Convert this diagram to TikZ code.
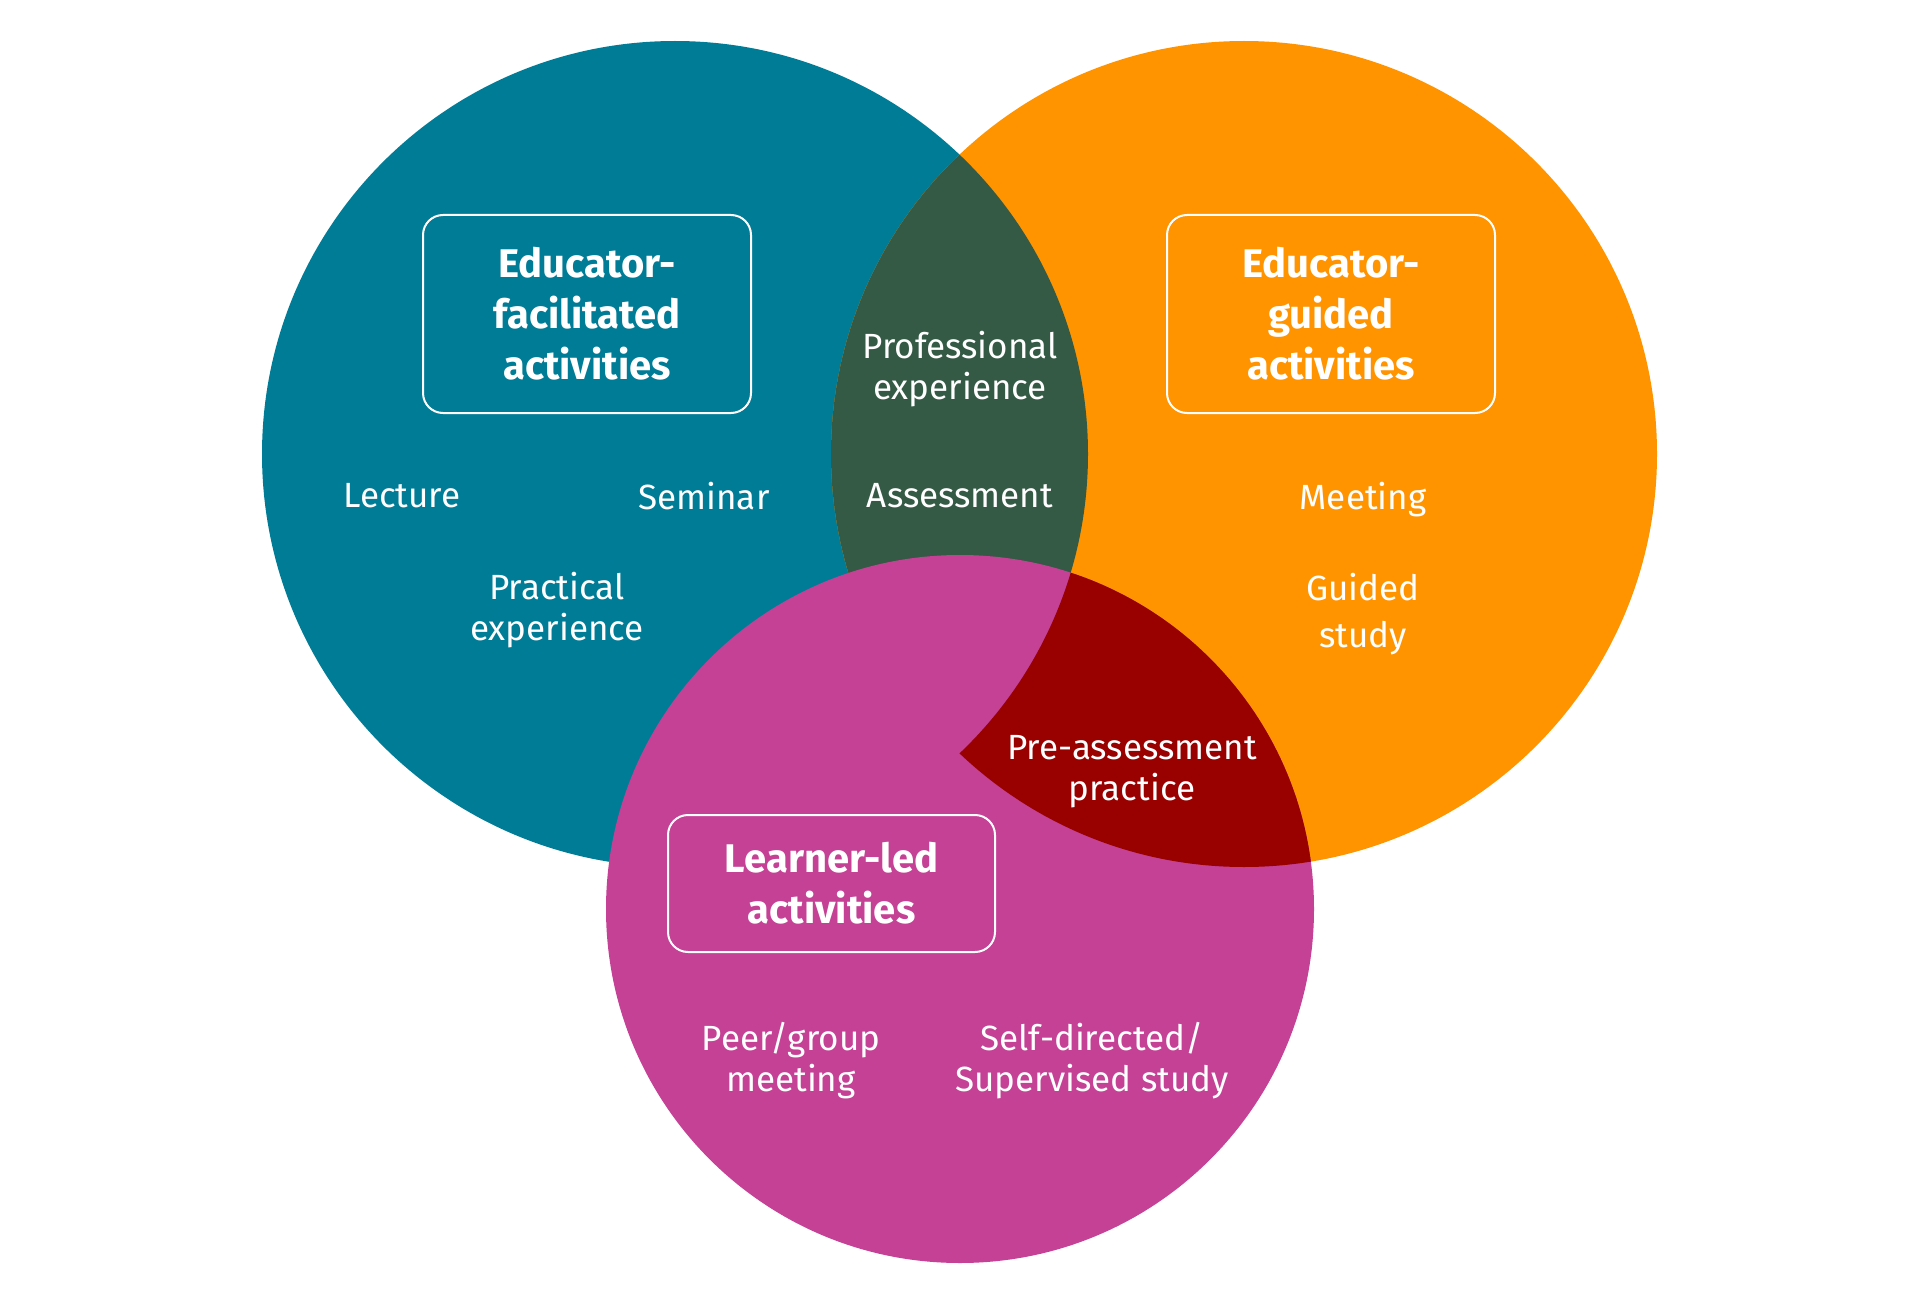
\documentclass[tikz,border=0pt]{standalone}
\usepackage{fontspec}
\setmainfont{Fira Sans}
\definecolor{cteal}{HTML}{007C96}
\definecolor{corange}{HTML}{FF9400}
\definecolor{cpink}{HTML}{C54196}
\definecolor{cgreen}{HTML}{345A45}
\definecolor{cred}{HTML}{990000}
\tikzset{
  lbl/.style={text=white, align=center, font=\fontsize{35}{41}\selectfont, inner sep=0pt},
  titlebox/.style={draw=white, line width=2pt, rounded corners=20pt, text=white, align=center,
    font=\fontsize{40}{51}\selectfont\bfseries, minimum width=328pt, inner sep=0pt},
}
\begin{document}
\begin{tikzpicture}[x=1pt,y=-1pt]
\useasboundingbox (0,0) rectangle (1920,1300);
\coordinate (tc) at (675,454);
\coordinate (oc) at (1244,454);
\coordinate (pc) at (960,909);
\def\rbig{413pt}
\def\rsm{354pt}
\fill[cteal] (tc) circle[radius=\rbig];
\fill[corange] (oc) circle[radius=\rbig];
\begin{scope}
  \clip (tc) circle[radius=\rbig];
  \fill[cgreen] (oc) circle[radius=\rbig];
\end{scope}
\fill[cpink] (pc) circle[radius=\rsm];
\begin{scope}
  \clip (pc) circle[radius=\rsm];
  \clip (oc) circle[radius=\rbig];
  \fill[cred, even odd rule] (0,0) rectangle (1920,1300) (tc) circle[radius=\rbig];
\end{scope}
% titles
\node[titlebox, minimum height=198pt] (t1) at (587,314) {Educator-\\facilitated\\activities};
\node[titlebox, minimum height=198pt] (t2) at (1331,314) {Educator-\\guided\\activities};
\node[titlebox, minimum height=137pt, minimum width=327pt] (t3) at (831.5,883.5) {Learner-led\\activities};
% labels
\node[lbl] (lec) at (402,496) {Lecture};
\node[lbl] (sem) at (704,496) {Seminar};
\node[lbl] (prac) at (557,610) {Practical\\experience};
\node[lbl] (prof) at (960,369) {Professional\\experience};
\node[lbl] (ass) at (960,496) {Assessment};
\node[lbl] (meet) at (1363,500) {Meeting};
\node[lbl] (guid) at (1363,614) {Guided\\[6pt]study};
\node[lbl] (pre) at (1132,772) {Pre-assessment\\practice};
\node[lbl] (peer) at (791,1061) {Peer/group\\meeting};
\node[lbl] (self) at (1092,1061) {Self-directed/\\Supervised study};
\end{tikzpicture}
\end{document}
